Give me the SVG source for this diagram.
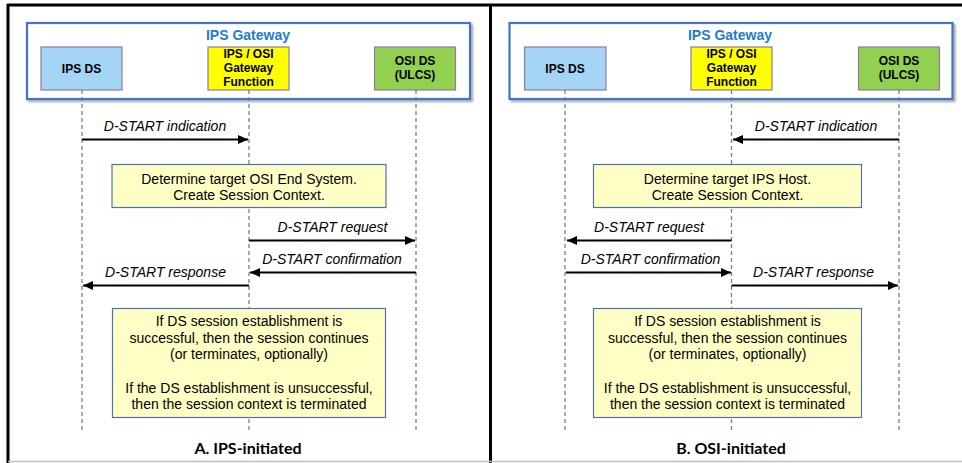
<svg xmlns="http://www.w3.org/2000/svg" width="962" height="463" viewBox="0 0 962 463">
<defs>
<marker id="ah" viewBox="0 0 10 10" refX="10" refY="5" markerWidth="5" markerHeight="4.5" markerUnits="strokeWidth" orient="auto" preserveAspectRatio="none">
<path d="M0,0 L10,5 L0,10 z" fill="#000"/>
</marker>
<filter id="sh" x="-5%" y="-5%" width="115%" height="130%">
<feDropShadow dx="2" dy="2" stdDeviation="1.2" flood-color="#000" flood-opacity="0.35"/>
</filter>
<style>
.gw{fill:#fff;stroke:#4472C4;stroke-width:2.2;}
.gwt{font-family:"Liberation Sans",Arial,sans-serif;font-weight:bold;font-size:14px;fill:#1F7DC8;text-anchor:middle;}
.nt{font-family:"Liberation Sans",Arial,sans-serif;font-weight:bold;font-size:12px;fill:#000;text-anchor:middle;}
.blue{fill:#A4D4F6;stroke:#8E7CA0;stroke-width:1.2;}
.yel{fill:#FFFF00;stroke:#8E7CA0;stroke-width:1.2;}
.grn{fill:#92D050;stroke:#8E7CA0;stroke-width:1.2;}
.life{stroke:#7F7F7F;stroke-width:1.3;stroke-dasharray:4,3;fill:none;}
.msg{stroke:#000;stroke-width:2;fill:none;marker-end:url(#ah);}
.ml{font-family:"Liberation Sans",Arial,sans-serif;font-style:italic;font-size:14px;fill:#000;text-anchor:middle;}
.note{fill:#FFFFC5;stroke:#4F72AE;stroke-width:1.2;}
.nt2{font-family:"Liberation Sans",Arial,sans-serif;font-size:14px;fill:#000;text-anchor:middle;}
.cap{font-family:Lato,"Open Sans",sans-serif;font-weight:bold;font-size:16px;fill:#000;text-anchor:middle;}
</style>
</defs>
<rect width="962" height="463" fill="#fff"/>
<g id="frame">
<line x1="7" y1="5" x2="962" y2="5" stroke="#000" stroke-width="3"/>
<line x1="8" y1="4" x2="8" y2="463" stroke="#000" stroke-width="3"/>
<line x1="490.5" y1="4" x2="490.5" y2="463" stroke="#000" stroke-width="3"/>
<line x1="8" y1="461.5" x2="962" y2="461.5" stroke="#BFBFBF" stroke-width="1.5"/>
</g>

<!-- Panel A -->
<g id="gatewayA">
<rect class="gw" x="27" y="23" width="443" height="76" filter="url(#sh)"/>
<text class="gwt" x="248" y="40">IPS Gateway</text>
</g>
<g id="lifelinesA">
<line class="life" x1="82" y1="90" x2="82" y2="432"/>
<line class="life" x1="249" y1="90" x2="249" y2="432"/>
<line class="life" x1="416" y1="90" x2="416" y2="432"/>
</g>
<g id="ipsdsA">
<rect class="blue" x="41" y="47" width="81" height="43"/>
<text class="nt" x="81.5" y="73">IPS DS</text>
</g>
<g id="gwfA">
<rect class="yel" x="208" y="47" width="81" height="43"/>
<text class="nt" x="248.5" y="58">IPS / OSI</text>
<text class="nt" x="248.5" y="72">Gateway</text>
<text class="nt" x="248.5" y="86">Function</text>
</g>
<g id="osidsA">
<rect class="grn" x="374.5" y="47" width="81" height="43"/>
<text class="nt" x="415" y="65">OSI DS</text>
<text class="nt" x="415" y="79">(ULCS)</text>
</g>
<g id="note1A">
<rect class="note" x="112" y="164.5" width="274" height="43"/>
<text class="nt2" x="249" y="184">Determine target OSI End System.</text>
<text class="nt2" x="249" y="200">Create Session Context.</text>
</g>
<g id="note2A">
<rect class="note" x="112.5" y="308.5" width="273" height="109"/>
<text class="nt2" x="249" y="326">If DS session establishment is</text>
<text class="nt2" x="249" y="342.5">successful, then the session continues</text>
<text class="nt2" x="249" y="359">(or terminates, optionally)</text>
<text class="nt2" x="249" y="392.5">If the DS establishment is unsuccessful,</text>
<text class="nt2" x="249" y="409">then the session context is terminated</text>
</g>
<g id="connectorsA">
<line class="msg" x1="82" y1="139.5" x2="248" y2="139.5"/>
<text class="ml" x="165" y="131">D-START indication</text>
<line class="msg" x1="249" y1="240.5" x2="415" y2="240.5"/>
<text class="ml" x="332.5" y="232">D-START request</text>
<line class="msg" x1="416" y1="272.5" x2="250" y2="272.5"/>
<text class="ml" x="332" y="264">D-START confirmation</text>
<line class="msg" x1="249" y1="285.5" x2="83" y2="285.5"/>
<text class="ml" x="165.5" y="277">D-START response</text>
</g>
<g id="captionA">
<text class="cap" x="248" y="454">A. IPS-initiated</text>
</g>

<!-- Panel B -->
<g id="gatewayB">
<rect class="gw" x="509.5" y="23" width="443" height="76" filter="url(#sh)"/>
<text class="gwt" x="730" y="40">IPS Gateway</text>
</g>
<g id="lifelinesB">
<line class="life" x1="565" y1="90" x2="565" y2="432"/>
<line class="life" x1="731.5" y1="90" x2="731.5" y2="432"/>
<line class="life" x1="899" y1="90" x2="899" y2="432"/>
</g>
<g id="ipsdsB">
<rect class="blue" x="524.5" y="47" width="81.5" height="43"/>
<text class="nt" x="565" y="73">IPS DS</text>
</g>
<g id="gwfB">
<rect class="yel" x="691" y="47" width="81" height="43"/>
<text class="nt" x="731.5" y="58">IPS / OSI</text>
<text class="nt" x="731.5" y="72">Gateway</text>
<text class="nt" x="731.5" y="86">Function</text>
</g>
<g id="osidsB">
<rect class="grn" x="858.5" y="47" width="81" height="43"/>
<text class="nt" x="899" y="65">OSI DS</text>
<text class="nt" x="899" y="79">(ULCS)</text>
</g>
<g id="note1B">
<rect class="note" x="593.5" y="164.5" width="268" height="43"/>
<text class="nt2" x="727.5" y="184">Determine target IPS Host.</text>
<text class="nt2" x="727.5" y="200">Create Session Context.</text>
</g>
<g id="note2B">
<rect class="note" x="593.5" y="308.5" width="268" height="109"/>
<text class="nt2" x="727.5" y="326">If DS session establishment is</text>
<text class="nt2" x="727.5" y="342.5">successful, then the session continues</text>
<text class="nt2" x="727.5" y="359">(or terminates, optionally)</text>
<text class="nt2" x="727.5" y="392.5">If the DS establishment is unsuccessful,</text>
<text class="nt2" x="727.5" y="409">then the session context is terminated</text>
</g>
<g id="connectorsB">
<line class="msg" x1="899" y1="139.5" x2="733" y2="139.5"/>
<text class="ml" x="816" y="131">D-START indication</text>
<line class="msg" x1="731.5" y1="240.5" x2="567" y2="240.5"/>
<text class="ml" x="649" y="232">D-START request</text>
<line class="msg" x1="566" y1="272.5" x2="731" y2="272.5"/>
<text class="ml" x="650.5" y="264">D-START confirmation</text>
<line class="msg" x1="731.5" y1="285.5" x2="898" y2="285.5"/>
<text class="ml" x="813.5" y="277">D-START response</text>
</g>
<g id="captionB">
<text class="cap" x="731" y="454">B. OSI-initiated</text>
</g>
</svg>
